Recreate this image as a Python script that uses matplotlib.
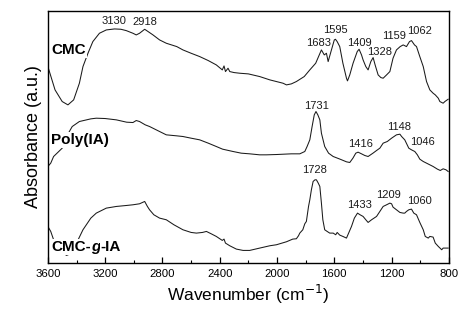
import matplotlib
matplotlib.use("Agg")
import matplotlib.pyplot as plt
from matplotlib.ticker import MultipleLocator

plt.rcParams["font.family"] = ["Liberation Sans", "DejaVu Sans"]

# wavenumber (cm-1) and absorbance (a.u., offset already applied)
cmc_wn = [3600, 3550, 3500, 3460, 3420, 3380, 3355, 3320, 3286, 3240, 3192, 3134, 3090, 3053,
          3006, 2983, 2960, 2924, 2900, 2866, 2820, 2773, 2700, 2657, 2600, 2540, 2480, 2424,
          2382, 2370, 2360, 2342, 2330, 2300, 2260, 2200, 2121, 2050, 1958, 1934, 1900, 1865,
          1810, 1771, 1730, 1700, 1690, 1670, 1655, 1643, 1620, 1600, 1592, 1580, 1562, 1540,
          1515, 1508, 1492, 1469, 1440, 1427, 1410, 1399, 1380, 1364, 1345, 1329, 1315, 1294,
          1275, 1259, 1235, 1212, 1190, 1166, 1140, 1119, 1096, 1075, 1061, 1040, 1026, 1003,
          979, 956, 933, 910, 895, 874, 863, 840, 828, 805]
cmc_abs = [5.90, 5.20, 4.85, 4.75, 4.90, 5.40, 5.90, 6.30, 6.65, 6.90, 7.00, 7.03, 7.02, 6.98,
           6.90, 6.85, 6.90, 7.02, 6.95, 6.85, 6.70, 6.60, 6.50, 6.40, 6.30, 6.20, 6.08, 5.95,
           5.80, 5.92, 5.75, 5.85, 5.75, 5.72, 5.70, 5.68, 5.60, 5.50, 5.40, 5.35, 5.38, 5.45,
           5.60, 5.80, 6.00, 6.30, 6.40, 6.25, 6.30, 6.05, 6.40, 6.70, 6.72, 6.65, 6.50, 6.00,
           5.55, 5.47, 5.65, 6.00, 6.35, 6.42, 6.25, 6.10, 5.90, 5.80, 6.05, 6.17, 5.95, 5.65,
           5.57, 5.55, 5.65, 5.75, 6.15, 6.40, 6.50, 6.55, 6.50, 6.65, 6.68, 6.55, 6.50, 6.20,
           5.90, 5.45, 5.20, 5.10, 5.05, 4.95, 4.85, 4.80, 4.85, 4.92]

poly_wn = [3600, 3580, 3560, 3500, 3470, 3430, 3380, 3300, 3262, 3200, 3122, 3050, 3006, 2983,
           2960, 2920, 2890, 2820, 2773, 2700, 2657, 2600, 2540, 2480, 2424, 2380, 2307, 2250,
           2191, 2121, 2074, 2000, 1900, 1841, 1806, 1790, 1771, 1755, 1740, 1728, 1715, 1701,
           1690, 1667, 1640, 1608, 1560, 1515, 1492, 1470, 1450, 1434, 1410, 1387, 1364, 1330,
           1305, 1282, 1259, 1230, 1200, 1166, 1142, 1130, 1108, 1080, 1061, 1038, 1020, 1003,
           979, 956, 933, 910, 880, 860, 840, 820, 805]
poly_abs = [2.90, 3.00, 3.20, 3.45, 3.80, 4.10, 4.25, 4.33, 4.35, 4.34, 4.30, 4.23, 4.22, 4.28,
            4.25, 4.15, 4.10, 3.95, 3.85, 3.82, 3.80, 3.75, 3.70, 3.60, 3.50, 3.42, 3.35, 3.30,
            3.28, 3.25, 3.25, 3.26, 3.28, 3.28, 3.35, 3.50, 3.70, 4.10, 4.45, 4.55, 4.45, 4.30,
            3.90, 3.50, 3.30, 3.20, 3.12, 3.04, 3.02, 3.15, 3.30, 3.33, 3.28, 3.23, 3.20, 3.30,
            3.38, 3.45, 3.60, 3.65, 3.75, 3.85, 3.87, 3.80, 3.70, 3.45, 3.40, 3.35, 3.25, 3.12,
            3.05, 3.00, 2.95, 2.90, 2.82, 2.78, 2.83, 2.80, 2.75]

graft_wn = [3600, 3580, 3560, 3520, 3470, 3430, 3400, 3355, 3300, 3262, 3192, 3122, 3050, 3006,
            2960, 2924, 2905, 2890, 2860, 2820, 2773, 2720, 2657, 2600, 2563, 2520, 2493, 2460,
            2424, 2382, 2370, 2360, 2330, 2284, 2237, 2191, 2121, 2050, 2004, 1934, 1890, 1865,
            1850, 1841, 1820, 1806, 1795, 1780, 1771, 1760, 1748, 1735, 1725, 1712, 1701, 1690,
            1680, 1667, 1650, 1632, 1608, 1590, 1580, 1562, 1540, 1515, 1500, 1480, 1460, 1438,
            1420, 1399, 1380, 1364, 1340, 1305, 1282, 1259, 1235, 1212, 1200, 1190, 1166, 1142,
            1119, 1108, 1096, 1080, 1061, 1045, 1026, 1003, 979, 965, 944, 933, 910, 895, 874,
            850, 840, 820, 805]
graft_abs = [1.10, 0.95, 0.70, 0.40, 0.23, 0.30, 0.60, 1.00, 1.35, 1.50, 1.65, 1.70, 1.73, 1.75,
             1.78, 1.85, 1.70, 1.60, 1.45, 1.35, 1.30, 1.15, 1.00, 0.92, 0.90, 0.92, 0.95, 0.88,
             0.80, 0.68, 0.72, 0.60, 0.52, 0.42, 0.38, 0.38, 0.45, 0.52, 0.55, 0.64, 0.72, 0.73,
             0.82, 0.90, 1.00, 1.18, 1.25, 1.70, 1.90, 2.20, 2.45, 2.50, 2.50, 2.40, 2.30, 1.80,
             1.30, 1.00, 0.95, 0.90, 0.90, 0.85, 0.92, 0.84, 0.80, 0.75, 0.90, 1.10, 1.35, 1.50,
             1.45, 1.40, 1.30, 1.22, 1.30, 1.40, 1.55, 1.70, 1.75, 1.80, 1.78, 1.68, 1.60, 1.52,
             1.50, 1.50, 1.55, 1.60, 1.62, 1.50, 1.45, 1.22, 1.00, 0.80, 0.75, 0.80, 0.78, 0.60,
             0.50, 0.40, 0.45, 0.45, 0.45]

# peak labels: (wavenumber position, height, text)
peak_x = [3138, 2920, 1713, 1590, 1427, 1282, 1182, 1003,
          1725, 1417, 1147, 984,
          1736, 1422, 1224, 1007]
peak_y = [7.28, 7.25, 6.62, 7.00, 6.62, 6.35, 6.82, 6.98,
          4.72, 3.58, 4.10, 3.63,
          2.80, 1.73, 2.05, 1.85]
peak_text = ["3130", "2918", "1683", "1595", "1409", "1328", "1159", "1062",
             "1731", "1416", "1148", "1046",
             "1728", "1433", "1209", "1060"]

fig = plt.figure(figsize=(4.74, 3.22), dpi=100)
ax = fig.add_axes([0.101, 0.183, 0.846, 0.783])

line_kw = dict(color="#1a1a1a", linewidth=0.75)
ax.plot(cmc_wn, cmc_abs, **line_kw)
ax.plot(poly_wn, poly_abs, **line_kw)
ax.plot(graft_wn, graft_abs, **line_kw)

for x, y, t in zip(peak_x, peak_y, peak_text):
  ax.text(x, y, t, ha="center", va="center", fontsize=8, color="#1a1a1a")

box = dict(facecolor="white", edgecolor="none", pad=0.5)
ax.text(3575, 6.40, "CMC", ha="left", va="center", fontsize=11,
        fontweight="bold", bbox=box)
ax.text(3575, 3.70, "Poly(IA)", ha="left", va="center", fontsize=11,
        fontweight="bold", bbox=box)
t1 = ax.text(3575, 0.48, "CMC-", ha="left", va="center", fontsize=11,
             fontweight="bold", bbox=box)
t2 = ax.annotate("g", xy=(1, 0), xycoords=t1, ha="left", va="bottom",
                 fontsize=11, fontweight="bold", fontstyle="italic", bbox=box)
ax.annotate("-IA", xy=(1, 0), xycoords=t2, ha="left", va="bottom",
            fontsize=11, fontweight="bold", bbox=box)

ax.set_xlim(3600, 800)
ax.set_ylim(0, 7.57)
ax.xaxis.set_major_locator(MultipleLocator(400))
ax.xaxis.set_minor_locator(MultipleLocator(200))
ax.tick_params(axis="x", which="major", direction="in", length=4, width=0.9,
               labelsize=8.2, pad=4, top=False)
ax.tick_params(axis="x", which="minor", direction="in", length=2.2, width=0.8, top=False)
ax.set_yticks([])
for s in ax.spines.values():
  s.set_linewidth(1.0)

ax.set_xlabel("Wavenumber (cm$^{-1}$)", fontsize=12.5, labelpad=3)
ax.set_ylabel("Absorbance (a.u.)", fontsize=13, labelpad=4)

fig.savefig("out.png", dpi=100, facecolor="white")
